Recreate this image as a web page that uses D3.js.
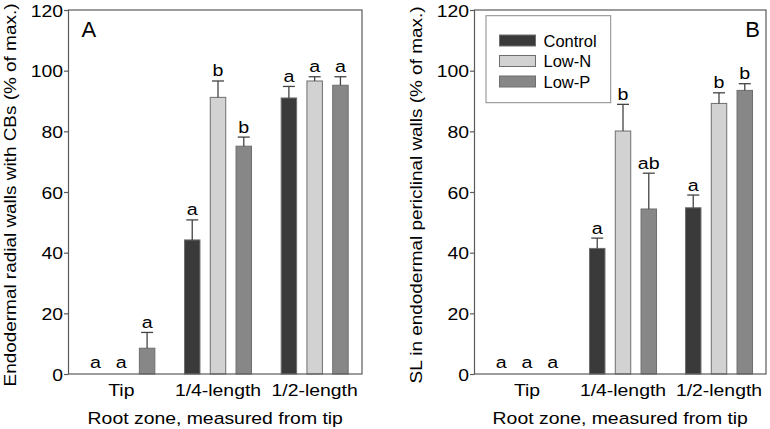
<!DOCTYPE html>
<html>
<head>
<meta charset="utf-8">
<script src="https://cdn.jsdelivr.net/npm/d3@7/dist/d3.min.js"></script>
<style>
  body { margin: 0; background: #fff; }
  svg { display: block; }
  text { font-family: "Liberation Sans", Arial, Helvetica, sans-serif; fill: #000; }
</style>
</head>
<body>
<svg id="chart" width="770" height="429"></svg>
<script>
// ---- data ----
const categories = ["Tip", "1/4-length", "1/2-length"];
const seriesNames = ["Control", "Low-N", "Low-P"];
const seriesColors = ["#3a3a3a", "#d2d2d2", "#878787"];
const yTicks = [0, 20, 40, 60, 80, 100, 120];

// Panel A: Endodermal radial walls with CBs
const aControl = [0, 44.2, 91.0];
const aLowN    = [0, 91.2, 96.6];
const aLowP    = [8.5, 75.1, 95.2];
const aControlErr = [0, 6.6, 3.8];
const aLowNErr    = [0, 5.4, 1.4];
const aLowPErr    = [5.2, 3.0, 2.8];
const aControlLbl = ["a", "a", "a"];
const aLowNLbl    = ["a", "b", "a"];
const aLowPLbl    = ["a", "b", "a"];

// Panel B: SL in endodermal periclinal walls
const bControl = [0, 41.4, 54.8];
const bLowN    = [0, 80.1, 89.2];
const bLowP    = [0, 54.4, 93.5];
const bControlErr = [0, 3.4, 4.2];
const bLowNErr    = [0, 8.8, 3.5];
const bLowPErr    = [0, 11.8, 2.2];
const bControlLbl = ["a", "a", "a"];
const bLowNLbl    = ["a", "b", "b"];
const bLowPLbl    = ["a", "ab", "b"];

// ---- drawing ----
const svg = d3.select("#chart");
const SX = 1.155; // horizontal stretch of the reference typography
const FS = 16.8;
const frameColor = "#5a5a5a";

const y = d3.scaleLinear().domain([0, 120]).range([374, 10]);

function panel(cfg) {
  const g = svg.append("g");
  const x = d3.scaleBand().domain(categories).range([cfg.left + 4.5, cfg.right + 1]).padding(0);
  const xs = d3.scaleBand().domain(seriesNames).range([-33.5, 33.5]).paddingInner(0.4).paddingOuter(0);

  const rows = [];
  cfg.values.forEach((vals, si) => {
    vals.forEach((v, ci) => {
      rows.push({cat: categories[ci], s: seriesNames[si], si, v, e: cfg.errs[si][ci], lbl: cfg.labels[si][ci]});
    });
  });

  // bars
  g.selectAll("rect.bar").data(rows.filter(d => d.v > 0)).join("rect")
    .attr("class", "bar")
    .attr("x", d => x(d.cat) + x.bandwidth() / 2 + xs(d.s))
    .attr("width", xs.bandwidth())
    .attr("y", d => y(d.v))
    .attr("height", d => y(0) - y(d.v))
    .attr("fill", d => seriesColors[d.si])
    .attr("stroke", "#6e6e6e")
    .attr("stroke-width", 1);

  // error bars
  const cx = d => x(d.cat) + x.bandwidth() / 2 + xs(d.s) + xs.bandwidth() / 2;
  const eb = rows.filter(d => d.e > 0);
  g.selectAll("line.err").data(eb).join("line")
    .attr("x1", cx).attr("x2", cx)
    .attr("y1", d => y(d.v)).attr("y2", d => y(d.v + d.e))
    .attr("stroke", "#444").attr("stroke-width", 1.3);
  g.selectAll("line.cap").data(eb).join("line")
    .attr("x1", d => cx(d) - 6).attr("x2", d => cx(d) + 6)
    .attr("y1", d => y(d.v + d.e)).attr("y2", d => y(d.v + d.e))
    .attr("stroke", "#444").attr("stroke-width", 1.3);

  // significance letters
  g.selectAll("text.lbl").data(rows).join("text")
    .attr("text-anchor", "middle")
    .attr("font-size", 17)
    .attr("transform", d => `translate(${cx(d)},${(d.v + d.e > 0 ? y(d.v + d.e) - 4.5 : y(0) - 6.5)}) scale(${SX},1)`)
    .text(d => d.lbl);

  // frame
  g.append("rect")
    .attr("x", cfg.left).attr("y", y(120))
    .attr("width", cfg.right - cfg.left).attr("height", y(0) - y(120))
    .attr("fill", "none").attr("stroke", frameColor).attr("stroke-width", 1.2);

  // y axis
  const ya = g.append("g").attr("transform", `translate(${cfg.left},0)`)
    .call(d3.axisLeft(y).tickValues(yTicks).tickSize(4.5).tickFormat(d3.format("d")));
  ya.select(".domain").remove();
  ya.selectAll(".tick line").attr("stroke", frameColor).attr("stroke-width", 1.2);
  ya.selectAll(".tick text")
    .attr("x", null).attr("dy", null)
    .attr("font-size", FS).attr("font-family", null).attr("fill", "#000")
    .attr("transform", `translate(-5.5,6) scale(${SX},1)`);

  // x category labels
  g.selectAll("text.xl").data(categories).join("text")
    .attr("text-anchor", "middle").attr("font-size", FS)
    .attr("transform", d => `translate(${x(d) + x.bandwidth() / 2},395.5) scale(${SX},1)`)
    .text(d => d);

  // axis titles
  g.append("text").attr("text-anchor", "middle").attr("font-size", FS)
    .attr("transform", `translate(${(cfg.left + cfg.right) / 2},423.5) scale(${SX},1)`)
    .text("Root zone, measured from tip");
  g.append("text").attr("text-anchor", "middle").attr("font-size", 16.4)
    .attr("transform", `translate(${cfg.ytx},${(y(0) + y(120)) / 2 + 3}) rotate(-90) scale(${SX},1)`)
    .text(cfg.ytitle);

  // panel letter
  g.append("text").attr("font-size", 22).attr("text-anchor", cfg.letterAnchor)
    .attr("x", cfg.letterX).attr("y", 37).text(cfg.letter);
}

panel({
  left: 68.5, right: 362,
  values: [aControl, aLowN, aLowP],
  errs: [aControlErr, aLowNErr, aLowPErr],
  labels: [aControlLbl, aLowNLbl, aLowPLbl],
  ytitle: "Endodermal radial walls with CBs (% of max.)",
  ytx: 15.5, letter: "A", letterX: 81.5, letterAnchor: "start"
});

panel({
  left: 474.5, right: 766,
  values: [bControl, bLowN, bLowP],
  errs: [bControlErr, bLowNErr, bLowPErr],
  labels: [bControlLbl, bLowNLbl, bLowPLbl],
  ytitle: "SL in endodermal periclinal walls (% of max.)",
  ytx: 421.5, letter: "B", letterX: 760, letterAnchor: "end"
});

// legend (panel B)
const lg = svg.append("g");
lg.append("rect").attr("x", 486).attr("y", 15.7).attr("width", 124.7).attr("height", 87)
  .attr("fill", "#fff").attr("stroke", "#8a8a8a").attr("stroke-width", 1);
const ly = d3.scalePoint().domain(seriesNames).range([40.5, 81.5]);
lg.selectAll("rect.sw").data(seriesNames).join("rect")
  .attr("x", 499.5).attr("width", 36)
  .attr("y", d => ly(d) - 5.5).attr("height", 11)
  .attr("fill", (d, i) => seriesColors[i])
  .attr("stroke", "#6e6e6e").attr("stroke-width", 1);
lg.selectAll("text.lt").data(seriesNames).join("text")
  .attr("x", 543.5).attr("y", d => ly(d) + 6)
  .attr("font-size", 16.5)
  .text(d => d);
</script>
</body>
</html>
